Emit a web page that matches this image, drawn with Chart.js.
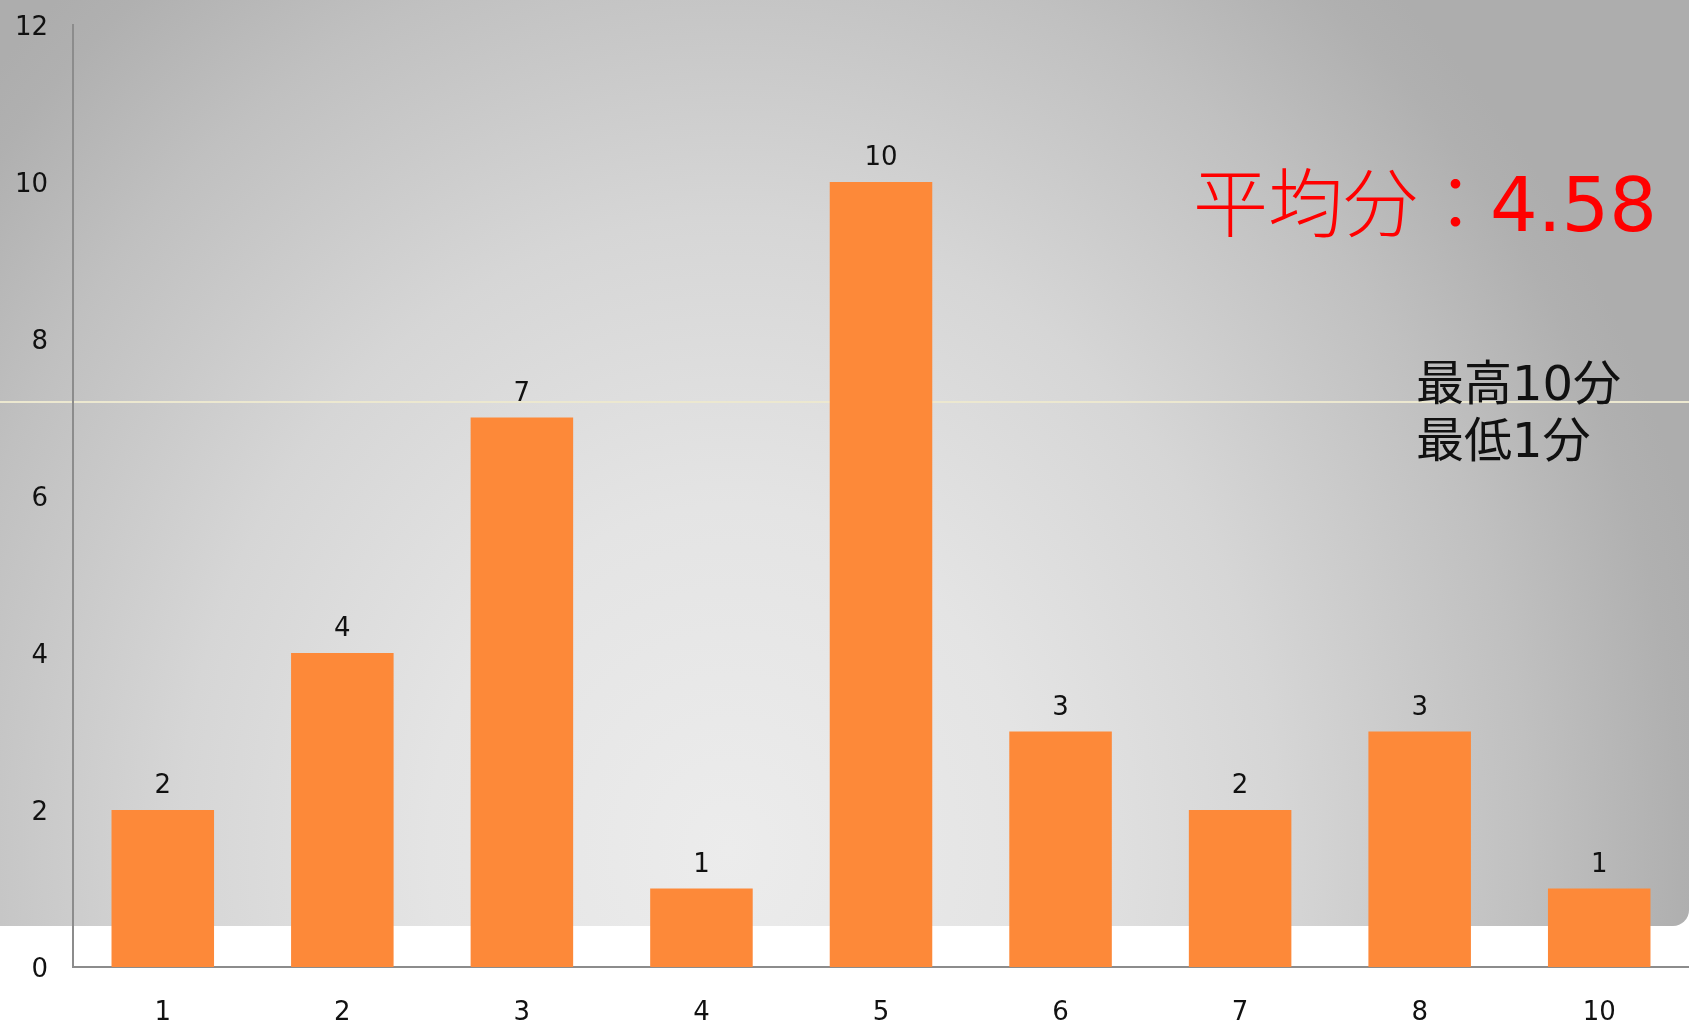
<!DOCTYPE html>
<html>
<head>
<meta charset="utf-8">
<script src="https://cdn.jsdelivr.net/npm/chart.js@4/dist/chart.umd.min.js"></script>
<style>
  html, body { margin: 0; padding: 0; background: #ffffff; }
  #wrap { position: relative; width: 1689px; height: 1024px; overflow: hidden; }
  #panel {
    position: absolute; left: 0; top: 0; width: 1689px; height: 926px;
    border-bottom-right-radius: 16px;
    background: radial-gradient(ellipse 1000px 1150px at 730px 850px,
      #ececec 0%, #e4e4e4 30%, #d6d6d6 55%, #c0c0c0 80%, #b0b0b0 95%, #adadad 100%);
  }
  #rule { position: absolute; left: 0; top: 401px; width: 1689px; height: 2px; background: #ece8d0; }
  #chart { position: absolute; left: 0; top: 0; width: 1689px; height: 1024px; }
</style>
</head>
<body>
<div id="wrap">
  <div id="panel"></div>
  <div id="rule"></div>
  <div id="chart"><canvas id="c"></canvas></div>
</div>
<script>
// Score values (x categories) and how many people got each score
const scoreLabels = ['1', '2', '3', '4', '5', '6', '7', '8', '10'];
const scoreCounts = [2, 4, 7, 1, 10, 3, 2, 3, 1];

// Y axis range
const yMax = 12;
const yStep = 2;

const FONT = "'DejaVu Sans', 'Noto Sans CJK JP', sans-serif";

// Summary figures derived from the counts
const totalPeople = scoreCounts.reduce((a, b) => a + b, 0);
const totalScore = scoreCounts.reduce((a, c, i) => a + c * Number(scoreLabels[i]), 0);
const averageScore = (totalScore / totalPeople).toFixed(2);
const scored = scoreLabels.filter((_, i) => scoreCounts[i] > 0).map(Number);
const highScore = Math.max(...scored);
const lowScore = Math.min(...scored);

const averageHead = '平均分：';
const rangeLines = ['最高' + highScore + '分', '最低' + lowScore + '分'];

// Value labels above each bar
const barValuePlugin = {
  id: 'barValues',
  afterDatasetsDraw(chart) {
    const ctx = chart.ctx;
    const meta = chart.getDatasetMeta(0);
    ctx.save();
    ctx.font = '26px ' + FONT;
    ctx.fillStyle = '#111111';
    ctx.textAlign = 'center';
    ctx.textBaseline = 'alphabetic';
    meta.data.forEach((bar, i) => {
      ctx.fillText(String(scoreCounts[i]), bar.x, bar.y - 17);
    });
    ctx.restore();
  }
};

// Average / high / low summary text
const summaryPlugin = {
  id: 'summary',
  afterDraw(chart) {
    const ctx = chart.ctx;
    ctx.save();
    ctx.textAlign = 'left';
    ctx.textBaseline = 'alphabetic';
    ctx.fillStyle = '#ff0000';
    ctx.font = "300 75px 'Noto Sans CJK JP', sans-serif";
    ctx.fillText(averageHead, 1193, 231);
    const headW = ctx.measureText(averageHead).width;
    ctx.font = "75px 'DejaVu Sans', sans-serif";
    ctx.fillText(averageScore, 1190 + headW, 231);
    ctx.fillStyle = '#111111';
    ctx.font = '48px ' + FONT;
    ctx.fillText(rangeLines[0], 1416, 400);
    ctx.fillText(rangeLines[1], 1416, 457);
    ctx.restore();
  }
};

new Chart(document.getElementById('c'), {
  type: 'bar',
  data: {
    labels: scoreLabels,
    datasets: [{
      data: scoreCounts,
      backgroundColor: '#fd8939',
      borderWidth: 0,
      barPercentage: 0.571,
      categoryPercentage: 1.0
    }]
  },
  options: {
    responsive: true,
    maintainAspectRatio: false,
    animation: false,
    layout: { padding: { top: 25, left: 0, right: 0, bottom: 0 } },
    plugins: {
      legend: { display: false },
      tooltip: { enabled: false }
    },
    scales: {
      x: {
        grid: { display: false, drawTicks: false },
        border: { display: true, color: '#8c8c8c', width: 2 },
        ticks: { color: '#111111', font: { family: FONT, size: 26 }, padding: 31, maxRotation: 0 },
        afterFit(scale) { scale.height = 57; }
      },
      y: {
        min: 0,
        max: yMax,
        // tick marks are hidden; their length only sets the label gap
        grid: { display: false, drawTicks: true, tickLength: 25 },
        border: { display: true, color: '#8c8c8c', width: 2 },
        ticks: { stepSize: yStep, color: '#111111', font: { family: FONT, size: 26 }, padding: 0, labelOffset: 3 },
        afterFit(scale) { scale.width = 73; }
      }
    }
  },
  plugins: [barValuePlugin, summaryPlugin]
});
</script>
</body>
</html>
